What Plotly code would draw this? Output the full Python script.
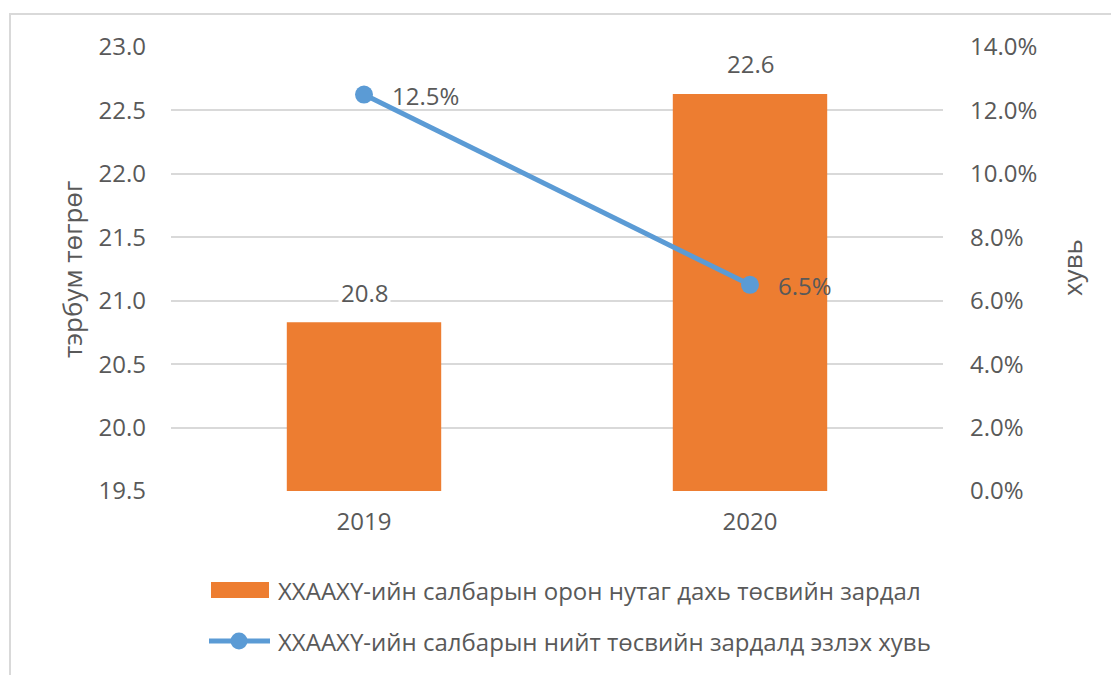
import plotly.graph_objects as go

# Data
years = ["2019", "2020"]
local_spending = [20.83, 22.63]          # тэрбум төгрөг
share_of_total = [0.125, 0.065]          # хувь
bar_name = "XXAAXY-ийн салбарын орон нутаг дахь төсвийн зардал"
line_name = "XXAAXY-ийн салбарын нийт төсвийн зардалд эзлэх хувь"
left_ticks = [19.5, 20.0, 20.5, 21.0, 21.5, 22.0, 22.5, 23.0]
right_ticks = [0.0, 0.02, 0.04, 0.06, 0.08, 0.10, 0.12, 0.14]

ORANGE = "#ED7D31"
BLUE = "#5B9BD5"
TEXT = "#595959"
GRID = "#D9D9D9"
FONT = "Open Sans"
FS = 24

# Plot area in pixels (used to place paper-coordinate decorations)
W, H = 1111, 675
L, R, T, B = 171, 168, 47, 184
PW, PH = W - L - R, H - T - B


def px(x):
    return (x - L) / PW


def py(y):
    return (H - B - y) / PH


fig = go.Figure()

fig.add_trace(go.Bar(
    x=years, y=local_spending, name=bar_name,
    marker=dict(color=ORANGE, line=dict(width=0)),
    width=0.4,
    showlegend=False,
))

fig.add_trace(go.Scatter(
    x=years, y=share_of_total, name=line_name, yaxis="y2",
    mode="lines+markers",
    line=dict(color=BLUE, width=5),
    marker=dict(color=BLUE, size=18),
    cliponaxis=False,
    showlegend=False,
))

shapes = [
    # chart frame
    dict(type="rect", xref="paper", yref="paper",
         x0=px(10), x1=px(1118), y0=py(682), y1=py(14),
         line=dict(color=GRID, width=2), fillcolor="rgba(0,0,0,0)", layer="below"),
    # legend: bar swatch
    dict(type="rect", xref="paper", yref="paper",
         x0=px(211), x1=px(269), y0=py(598), y1=py(582),
         line=dict(width=0), fillcolor=ORANGE),
    # legend: line swatch
    dict(type="line", xref="paper", yref="paper",
         x0=px(209), x1=px(270), y0=py(641), y1=py(641),
         line=dict(color=BLUE, width=5)),
    dict(type="circle", xref="paper", yref="paper",
         x0=px(239 - 8.5), x1=px(239 + 8.5), y0=py(641 + 8.5), y1=py(641 - 8.5),
         line=dict(width=0), fillcolor=BLUE),
]

annotations = []

# value labels above the bars (white box cuts the gridline behind);
# on a category axis annotations are positioned by category index
for i, v in enumerate(local_spending):
    annotations.append(dict(
        text=f"{v:.1f}", x=i, y=v, xref="x", yref="y",
        xanchor="center", yanchor="middle", yshift=30,
        showarrow=False, bgcolor="white", borderpad=2,
        font=dict(family=FONT, size=FS, color=TEXT),
    ))

# percentage labels to the right of the line markers
for i, v in enumerate(share_of_total):
    annotations.append(dict(
        text=f"{v:.1%}", x=i, y=v, xref="x", yref="y2",
        xanchor="left", yanchor="middle", xshift=26, yshift=-1,
        showarrow=False,
        font=dict(family=FONT, size=FS, color=TEXT),
    ))

annotations += [
    dict(text=bar_name, xref="paper", yref="paper", x=px(276), y=py(590),
         xanchor="left", yanchor="middle", showarrow=False,
         font=dict(family=FONT, size=FS, color=TEXT)),
    dict(text=line_name, xref="paper", yref="paper", x=px(276), y=py(641),
         xanchor="left", yanchor="middle", showarrow=False,
         font=dict(family=FONT, size=FS, color=TEXT)),
    dict(text="тэрбум төгрөг", xref="paper", yref="paper", x=px(72), y=py(269),
         xanchor="center", yanchor="middle", textangle=-90, showarrow=False,
         font=dict(family=FONT, size=26, color=TEXT)),
    dict(text="хувь", xref="paper", yref="paper", x=px(1072), y=py(268),
         xanchor="center", yanchor="middle", textangle=-90, showarrow=False,
         font=dict(family=FONT, size=26, color=TEXT)),
]

fig.update_layout(
    width=W, height=H,
    margin=dict(l=L, r=R, t=T, b=B),
    paper_bgcolor="white", plot_bgcolor="white",
    font=dict(family=FONT, size=FS, color=TEXT),
    xaxis=dict(
        type="category", range=[-0.5, 1.5],
        showgrid=False, zeroline=False, showline=False, ticks="",
        ticklabelstandoff=14,
        tickfont=dict(family=FONT, size=FS, color=TEXT),
    ),
    yaxis=dict(
        range=[19.5, 23.0], tickvals=left_ticks, tickformat=".1f",
        showgrid=True, gridcolor=GRID, gridwidth=2,
        zeroline=False, showline=False, ticks="",
        ticklabelstandoff=24,
        tickfont=dict(family=FONT, size=FS, color=TEXT),
    ),
    yaxis2=dict(
        overlaying="y", side="right",
        range=[0.0, 0.14], tickvals=right_ticks, tickformat=".1%",
        showgrid=False, zeroline=False, showline=False, ticks="",
        ticklabelstandoff=26,
        tickfont=dict(family=FONT, size=FS, color=TEXT),
    ),
    shapes=shapes,
    annotations=annotations,
    showlegend=False,
)

fig.write_html("out.html")
